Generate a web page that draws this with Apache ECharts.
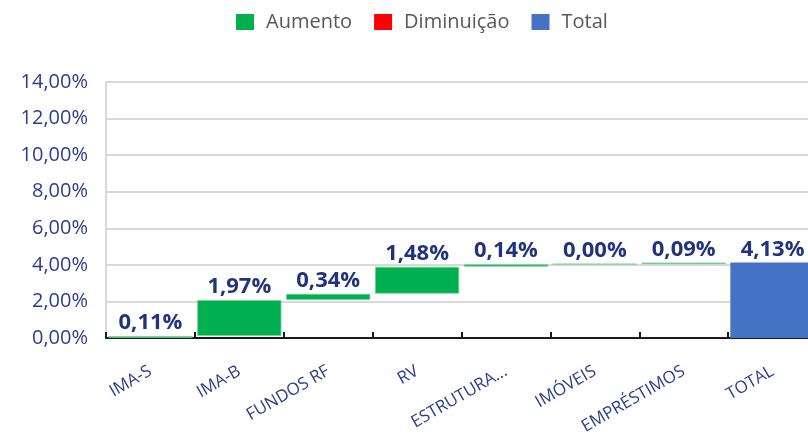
<!DOCTYPE html>
<html>
<head>
<meta charset="utf-8">
<script src="https://cdn.jsdelivr.net/npm/echarts@6/dist/echarts.min.js"></script>
<style>
html,body{margin:0;padding:0;background:#fff;}
#chart{width:808px;height:435px;}
</style>
</head>
<body>
<div id="chart"></div>
<script>
var categories = ['IMA-S', 'IMA-B', 'FUNDOS RF', 'RV', 'ESTRUTURA...', 'IMÓVEIS', 'EMPRÉSTIMOS', 'TOTAL'];
var increaseValues = [0.11, 1.97, 0.34, 1.48, 0.14, 0.00, 0.09];
var decreaseValues = [];
var totalValue = 4.13;
var yTicks = [0, 2, 4, 6, 8, 10, 12, 14];

var navy = '#2B3E8E';
var labelNavy = '#21337F';
var fontFam = '"Open Sans", "Noto Sans", sans-serif';

function fmt(v) { return v.toFixed(2).replace('.', ',') + '%'; }

// build waterfall series from the data arrays
var baseData = [], incData = [], decData = [], totData = [];
var cum = 0;
for (var i = 0; i < categories.length; i++) {
  if (i < increaseValues.length) {
    baseData.push(cum);
    incData.push(increaseValues[i]);
    decData.push('-');
    totData.push('-');
    cum += increaseValues[i];
  } else {
    baseData.push('-');
    incData.push('-');
    decData.push('-');
    totData.push(totalValue);
  }
}

var chart = echarts.init(document.getElementById('chart'));
var labelCfg = {
  show: true,
  position: 'top',
  distance: 2,
  color: labelNavy,
  fontFamily: fontFam,
  fontWeight: 'bold',
  fontSize: 22,
  formatter: function (p) { return fmt(p.value); }
};
chart.setOption({
  animation: false,
  legend: {
    data: ['Aumento', 'Diminuição', 'Total'],
    left: 231,
    top: 7,
    icon: 'rect',
    itemWidth: 18,
    itemHeight: 16,
    itemGap: 22,
    itemStyle: { borderWidth: 0 },
    textStyle: { fontFamily: fontFam, fontSize: 20, color: '#595959', padding: [0, 0, 0, 7] }
  },
  grid: { left: 106, top: 82, width: 711, height: 256, containLabel: false, outerBoundsMode: 'none' },
  xAxis: {
    type: 'category',
    data: categories,
    axisLine: { show: true, lineStyle: { color: '#1a1a1a', width: 2 } },
    axisTick: { show: true, inside: true, length: 6, lineStyle: { color: '#1a1a1a', width: 2 } },
    axisLabel: {
      interval: 0,
      rotate: 30,
      margin: 32,
      color: navy,
      fontFamily: fontFam,
      fontSize: 17
    },
    splitLine: { show: false }
  },
  yAxis: {
    type: 'value',
    min: yTicks[0],
    max: yTicks[yTicks.length - 1],
    interval: 2,
    axisLine: { show: true, lineStyle: { color: '#d9d9d9', width: 2 } },
    axisTick: { show: false },
    axisLabel: {
      margin: 18,
      color: navy,
      fontFamily: fontFam,
      fontSize: 20,
      formatter: function (v) { return fmt(v); }
    },
    splitLine: { show: true, lineStyle: { color: '#d9d9d9', width: 2 } }
  },
  series: [
    {
      name: 'base',
      type: 'bar',
      stack: 'w',
      data: baseData,
      barCategoryGap: '5%',
      itemStyle: { color: 'rgba(0,0,0,0)' },
      emphasis: { disabled: true },
      silent: true
    },
    {
      name: 'Aumento',
      type: 'bar',
      stack: 'w',
      data: incData,
      barCategoryGap: '5%',
      itemStyle: { color: '#00B050', borderColor: 'rgba(120,210,150,0.8)', borderWidth: 1 },
      label: labelCfg
    },
    {
      name: 'Diminuição',
      type: 'bar',
      stack: 'w',
      data: decData,
      barCategoryGap: '5%',
      itemStyle: { color: '#FF0000' },
      label: labelCfg
    },
    {
      name: 'Total',
      type: 'bar',
      stack: 'w',
      data: totData,
      barCategoryGap: '5%',
      itemStyle: { color: '#4472C4' },
      label: labelCfg
    }
  ]
});
</script>
</body>
</html>
